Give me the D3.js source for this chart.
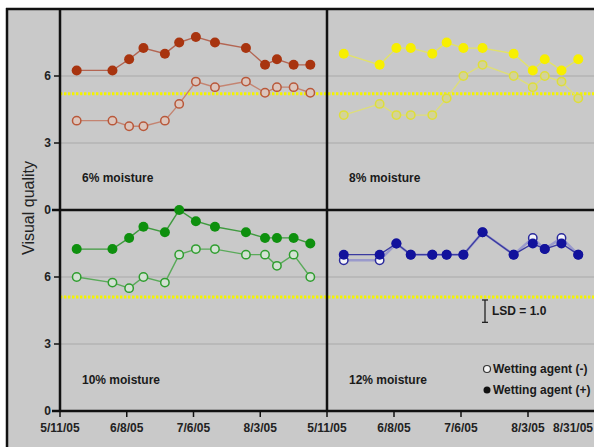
<!DOCTYPE html>
<html><head><meta charset="utf-8">
<script src="https://cdn.jsdelivr.net/npm/d3@7"></script>
<style>body{margin:0;background:#fff;} svg{display:block;} text{font-family:"Liberation Sans",Arial,sans-serif;}</style>
</head><body><svg id="c" width="594" height="447"></svg>
<script>
// ---- data ----
const sampleDates = ["2005-05-18","2005-06-02","2005-06-09","2005-06-15","2005-06-24","2005-06-30","2005-07-07","2005-07-15","2005-07-28","2005-08-05","2005-08-10","2005-08-17","2005-08-24"];
const tickDates = ["2005-05-11","2005-06-08","2005-07-06","2005-08-03","2005-08-31"];
const tickLabels = ["5/11/05","6/8/05","7/6/05","8/3/05","8/31/05"];
const yTicks = [0,3,6];
const panelLabels = ["6% moisture","8% moisture","10% moisture","12% moisture"];
const wetMinus6  = [4,4,3.75,3.75,4,4.75,5.75,5.5,5.75,5.25,5.5,5.5,5.25];
const wetPlus6   = [6.25,6.25,6.75,7.25,7,7.5,7.75,7.5,7.25,6.5,6.75,6.5,6.5];
const wetMinus8  = [4.25,4.75,4.25,4.25,4.25,5,6,6.5,6,5.5,6,5.75,5];
const wetPlus8   = [7,6.5,7.25,7.25,7,7.5,7.25,7.25,7,6.25,6.75,6.25,6.75];
const wetMinus10 = [6,5.75,5.5,6,5.75,7,7.25,7.25,7,7,6.5,7,6];
const wetPlus10  = [7.25,7.25,7.75,8.25,8,9,8.5,8.25,8,7.75,7.75,7.75,7.5];
const wetMinus12 = [6.75,6.75,7.5,7,7,7,7,8,7,7.75,7.25,7.75,7];
const wetPlus12  = [7,7,7.5,7,7,7,7,8,7,7.5,7.25,7.5,7];
const thresholdRows = [5.2, 5.1];
const lsdValue = 1.0;
const lsdLabel = "LSD = 1.0";
const legendLabels = ["Wetting agent (-)","Wetting agent (+)"];
const yTitle = "Visual quality";

// ---- layout / styles ----
const svg = d3.select("#c");
const parse = d3.timeParse("%Y-%m-%d");
const dates = sampleDates.map(parse);
const colRange = [[60,327],[327,595]];
const rowRange = [[210,9],[411,210]];
const xs = colRange.map(r => d3.scaleTime().domain([parse("2005-05-11"), parse("2005-08-31")]).range(r));
const ys = rowRange.map(r => d3.scaleLinear().domain([0,9]).range(r));

const panels = [
  {c:0,r:0,minus:wetMinus6, plus:wetPlus6, fill:"#a8340f", ostroke:"#b9583a", ofill:"#dcc6bd", pline:"#b36552", mline:"#c48471"},
  {c:1,r:0,minus:wetMinus8, plus:wetPlus8, fill:"#f7ef00", ostroke:"#dede3a", ofill:"#d3d39a", pline:"#e2e268", mline:"#dede78"},
  {c:0,r:1,minus:wetMinus10,plus:wetPlus10,fill:"#0e900e", ostroke:"#2f9e2f", ofill:"#d4e2d4", pline:"#3f9a3f", mline:"#5aaa5a"},
  {c:1,r:1,minus:wetMinus12,plus:wetPlus12,fill:"#12129c", ostroke:"#2a2a9c", ofill:"#f4f4f8", pline:"#3a3aa0", mline:"#9a9acc"}
];

// background
svg.append("rect").attr("x",7).attr("y",9).attr("width",587).attr("height",438).attr("fill","#c9c9c9");

// gridlines
panels.forEach(p=>{
  [3,6].forEach(v=>{
    svg.append("line").attr("x1",colRange[p.c][0]).attr("x2",colRange[p.c][1])
      .attr("y1",ys[p.r](v)).attr("y2",ys[p.r](v)).attr("stroke","#a9a9a9").attr("stroke-width",1.2);
  });
});

// threshold dotted yellow lines
thresholdRows.forEach((v,i)=>{
  svg.append("line").attr("x1",60).attr("x2",594).attr("y1",ys[i](v)).attr("y2",ys[i](v))
    .attr("stroke","#f4f400").attr("stroke-width",3).attr("stroke-dasharray","2.4,1.6");
});

// frame lines
const blk = "#111";
svg.append("line").attr("x1",7).attr("x2",7).attr("y1",8).attr("y2",447).attr("stroke",blk).attr("stroke-width",2.5);
svg.append("line").attr("x1",6).attr("x2",594).attr("y1",9).attr("y2",9).attr("stroke",blk).attr("stroke-width",2.5);
svg.append("line").attr("x1",60).attr("x2",60).attr("y1",9).attr("y2",412).attr("stroke",blk).attr("stroke-width",2.5);
svg.append("line").attr("x1",327).attr("x2",327).attr("y1",9).attr("y2",412).attr("stroke",blk).attr("stroke-width",2.5);
svg.append("line").attr("x1",52).attr("x2",594).attr("y1",210).attr("y2",210).attr("stroke",blk).attr("stroke-width",2.5);
svg.append("line").attr("x1",52).attr("x2",594).attr("y1",411).attr("y2",411).attr("stroke",blk).attr("stroke-width",2.5);

// y ticks
[0,1].forEach(r=>{
  yTicks.forEach(v=>{
    const y = ys[r](v);
    svg.append("line").attr("x1",54).attr("x2",60).attr("y1",y).attr("y2",y).attr("stroke",blk).attr("stroke-width",1.5);
    svg.append("text").attr("x",51).attr("y",y).attr("dy","0.36em").attr("text-anchor","end")
      .attr("font-size",12).attr("font-weight","bold").attr("fill","#222").text(v);
  });
});

// x ticks
[0,1].forEach(c=>{
  tickDates.forEach((d,i)=>{
    if (c===0 && i===tickDates.length-1) return;
    const x = xs[c](parse(d));
    svg.append("line").attr("x1",x).attr("x2",x).attr("y1",411).attr("y2",417).attr("stroke",blk).attr("stroke-width",1.5);
    const last = (c===1 && i===tickDates.length-1);
    svg.append("text").attr("x", last ? 593 : x).attr("y",428).attr("dy","0.36em")
      .attr("text-anchor", last ? "end" : "middle")
      .attr("font-size",12).attr("font-weight","bold").attr("fill","#222").text(tickLabels[i]);
  });
});

// series
panels.forEach((p,k)=>{
  const x = xs[p.c], y = ys[p.r];
  const line = d3.line().x((d,i)=>x(dates[i])).y(d=>y(d));
  svg.append("path").attr("d",line(p.minus)).attr("fill","none").attr("stroke",p.mline).attr("stroke-width",k===3?2.5:1.4);
  svg.append("path").attr("d",line(p.plus)).attr("fill","none").attr("stroke",p.pline).attr("stroke-width",1.4);
  svg.selectAll(null).data(p.minus).enter().append("circle")
    .attr("cx",(d,i)=>x(dates[i])).attr("cy",d=>y(d)).attr("r",4.2)
    .attr("fill",p.ofill).attr("stroke",p.ostroke).attr("stroke-width",1.5);
  svg.selectAll(null).data(p.plus).enter().append("circle")
    .attr("cx",(d,i)=>x(dates[i])).attr("cy",d=>y(d)).attr("r",5)
    .attr("fill",p.fill);
  svg.append("text").attr("x", p.c===0 ? 82 : 349).attr("y", p.r===0 ? 178 : 380).attr("dy","0.36em")
    .attr("font-size",12).attr("font-weight","bold").attr("fill","#1a1a1a").text(panelLabels[k]);
});

// LSD bar
const lsdTop = 300, lsdBot = lsdTop + (ys[1](0) - ys[1](lsdValue));
svg.append("line").attr("x1",485).attr("x2",485).attr("y1",lsdTop).attr("y2",lsdBot).attr("stroke","#222").attr("stroke-width",1.3);
[lsdTop,lsdBot].forEach(yy=>svg.append("line").attr("x1",482).attr("x2",488).attr("y1",yy).attr("y2",yy).attr("stroke","#222").attr("stroke-width",1.3));
svg.append("text").attr("x",492).attr("y",(lsdTop+lsdBot)/2).attr("dy","0.36em")
  .attr("font-size",12).attr("font-weight","bold").attr("fill","#1a1a1a").text(lsdLabel);

// legend
const lg = [{y:369,open:true},{y:390,open:false}];
lg.forEach((l,i)=>{
  svg.append("circle").attr("cx",487).attr("cy",l.y).attr("r",3.5)
    .attr("fill", l.open ? "#f4f4f4" : "#111").attr("stroke", l.open ? "#333" : "none").attr("stroke-width",1.2);
  svg.append("text").attr("x",493).attr("y",l.y).attr("dy","0.36em")
    .attr("font-size",12).attr("font-weight","bold").attr("fill","#1a1a1a").text(legendLabels[i]);
});

// y title
svg.append("text").attr("transform","translate(28,208) rotate(-90)").attr("text-anchor","middle")
  .attr("dy","0.36em").attr("font-size",16).attr("fill","#222").text(yTitle);
</script></body></html>
